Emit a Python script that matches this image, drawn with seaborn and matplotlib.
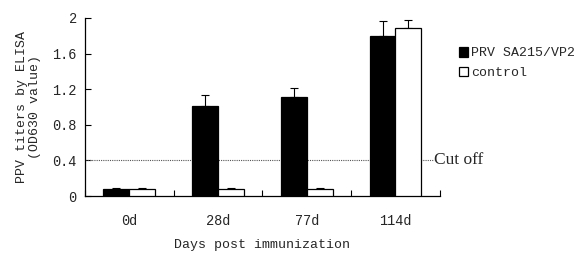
import pandas as pd
import seaborn as sns
import matplotlib.pyplot as plt
from matplotlib.ticker import FixedLocator

sns.set_style('ticks')
plt.rcParams['font.family'] = ['Liberation Mono', 'DejaVu Sans Mono']

days = ['0d', '28d', '77d', '114d']
groups = ['PRV SA215/VP2', 'control']
vaccine = [0.08, 1.01, 1.11, 1.80]
vaccine_err = [0.01, 0.12, 0.10, 0.17]
control = [0.08, 0.08, 0.08, 1.89]
control_err = [0.01, 0.01, 0.01, 0.09]
cutoff = 0.4

df = pd.DataFrame({
    'day': days * 2,
    'group': [groups[0]] * 4 + [groups[1]] * 4,
    'value': vaccine + control,
    'err': vaccine_err + control_err,
})

fig = plt.figure(figsize=(5.78, 2.6), dpi=100)
ax = fig.add_axes([0.147, 0.246, 0.614, 0.685])

sns.barplot(data=df, x='day', y='value', hue='group', order=days, hue_order=groups,
            palette={groups[0]: 'black', groups[1]: 'white'}, width=0.585,
            edgecolor='black', linewidth=0.9, errorbar=None, ax=ax, zorder=3)

# upper error bars only
for cont, errs in zip(ax.containers, [vaccine_err, control_err]):
    for bar, e in zip(cont, errs):
        xc = bar.get_x() + bar.get_width() / 2
        ax.errorbar(xc, bar.get_height(), yerr=[[0], [e]], fmt='none',
                    ecolor='black', elinewidth=0.8, capsize=3, capthick=0.8, zorder=2)

# cut off line
ax.plot([-0.5, 3.43], [cutoff, cutoff], ls=(0, (1, 1)), color='#555555', lw=0.8,
        zorder=1, clip_on=False)
ax.text(3.43, cutoff, 'Cut off', family='Liberation Serif', fontsize=12.5,
        va='center', ha='left')

ax.set_xlim(-0.5, 3.5)
ax.set_ylim(0, 2)
ax.set_yticks([0, 0.4, 0.8, 1.2, 1.6, 2])
ax.set_yticklabels(['0', '0.4', '0.8', '1.2', '1.6', '2'])
ax.xaxis.set_major_locator(FixedLocator([-0.5, 0.5, 1.5, 2.5, 3.5]))
ax.set_xticklabels([])
ax.xaxis.set_minor_locator(FixedLocator([0, 1, 2, 3]))
ax.set_xticklabels(days, minor=True)
ax.tick_params(axis='x', which='minor', length=0, pad=13, labelsize=9.8)
ax.tick_params(axis='both', which='major', direction='in', length=4, width=0.8,
               labelsize=9.8, color='black')
ax.tick_params(axis='y', pad=6)
for s in ['left', 'bottom']:
    ax.spines[s].set_linewidth(0.9)
    ax.spines[s].set_color('black')
sns.despine(ax=ax)

ax.set_xlabel('Days post immunization', fontsize=9.5, labelpad=8)
ax.set_ylabel('PPV titers by ELISA\n(OD630 value)', fontsize=9.5, labelpad=8,
              linespacing=1.1)

ax.legend(loc='upper left', bbox_to_anchor=(0.782, 0.845), bbox_transform=fig.transFigure,
          frameon=False, fontsize=9.5, handlelength=0.75, handleheight=0.75,
          handletextpad=0.2, labelspacing=0.55, borderpad=0)

fig.savefig('out.png', dpi=100, facecolor='white')
